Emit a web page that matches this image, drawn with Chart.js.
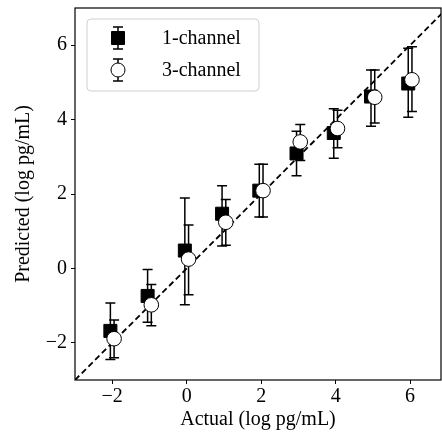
<!DOCTYPE html>
<html>
<head>
<meta charset="utf-8">
<script src="https://cdn.jsdelivr.net/npm/chart.js@4/dist/chart.umd.min.js"></script>
<style>html,body{margin:0;padding:0;background:#fff}</style>
</head>
<body>
<canvas id="myChart" width="442" height="436"></canvas>
<script>
// Daten ------------------------------------------------------------
const actual = [-2, -1, 0, 1, 2, 3, 4, 5, 6];
const pred1 = [-1.68, -0.74, 0.48, 1.47, 2.09, 3.09, 3.64, 4.62, 4.97];
const lo1   = [-2.45, -1.45, -0.98, 0.60, 1.38, 2.49, 2.96, 3.82, 4.06];
const hi1   = [-0.93, -0.03, 1.89, 2.22, 2.80, 3.69, 4.29, 5.33, 5.92];
const pred3 = [-1.89, -0.98, 0.25, 1.24, 2.09, 3.40, 3.76, 4.60, 5.07];
const lo3   = [-2.40, -1.54, -0.71, 0.62, 1.38, 2.90, 3.24, 3.91, 4.22];
const hi3   = [-1.39, -0.43, 1.17, 1.85, 2.80, 3.87, 4.25, 5.33, 5.96];
const xTicks = [-2, 0, 2, 4, 6];
const yTicks = [-2, 0, 2, 4, 6];
const identity = [-3, 7];
const shift = 0.05; // kleine Verschiebung, damit sich die Serien nicht verdecken

const FONT = 'Liberation Serif';
const fmt = v => (v < 0 ? '\u2212' + Math.abs(v) : String(v));

// Fehlerbalken, Rahmen und Legende -----------------------------------
function drawBar(ctx, px, top, bot) {
    ctx.beginPath();
    ctx.moveTo(px, top); ctx.lineTo(px, bot);
    ctx.moveTo(px - 5, top); ctx.lineTo(px + 5, top);
    ctx.moveTo(px - 5, bot); ctx.lineTo(px + 5, bot);
    ctx.stroke();
}

const errorBars = {
    id: 'errorBars',
    beforeDatasetDraw(chart, args) {
        const ds = chart.data.datasets[args.index];
        if (!ds.lo) return;
        const { ctx, scales: { x, y } } = chart;
        ctx.save();
        ctx.strokeStyle = '#000';
        ctx.lineWidth = 1.5;
        ds.data.forEach((p, i) => {
            drawBar(ctx, x.getPixelForValue(p.x), y.getPixelForValue(ds.hi[i]), y.getPixelForValue(ds.lo[i]));
        });
        ctx.restore();
    },
    afterDraw(chart) {
        const { ctx, chartArea: a } = chart;
        ctx.save();
        // Rahmen
        ctx.strokeStyle = '#000';
        ctx.lineWidth = 1.2;
        ctx.strokeRect(a.left, a.top, a.right - a.left, a.bottom - a.top);

        // Legende
        const lx = a.left + 12, ly = a.top + 11, lw = 172, lh = 72;
        ctx.fillStyle = 'rgba(255,255,255,0.8)';
        ctx.strokeStyle = '#d0d0d0';
        ctx.lineWidth = 1;
        ctx.beginPath();
        ctx.roundRect(lx, ly, lw, lh, 4);
        ctx.fill(); ctx.stroke();

        const rows = chart.data.datasets.filter(d => d.lo).sort((p, q) => p.legendIdx - q.legendIdx);
        rows.forEach((ds, i) => {
            const cx = lx + 31, cy = ly + 19 + i * 32;
            ctx.strokeStyle = '#000';
            ctx.lineWidth = 1.5;
            drawBar(ctx, cx, cy - 11, cy + 11);
            ctx.fillStyle = ds.backgroundColor;
            ctx.lineWidth = 1;
            ctx.beginPath();
            if (ds.pointStyle === 'rect') ctx.rect(cx - 6.5, cy - 6.5, 13, 13);
            else ctx.arc(cx, cy, 7, 0, Math.PI * 2);
            ctx.fill(); ctx.stroke();
            ctx.fillStyle = '#000';
            ctx.font = '20px "' + FONT + '"';
            ctx.textBaseline = 'middle';
            ctx.fillText(ds.label, lx + 75, cy + 1);
        });
        ctx.restore();
    }
};

// Chart Erstellung ---------------------------------------------------
const ctx = document.getElementById('myChart').getContext('2d');
const myChart = new Chart(ctx, {
    type: 'scatter',
    data: {
        datasets: [
            {
                label: '3-channel',
                legendIdx: 1,
                order: 0,
                data: actual.map((v, i) => ({ x: v + shift, y: pred3[i] })),
                lo: lo3, hi: hi3,
                pointStyle: 'circle',
                pointRadius: 7.3,
                pointHoverRadius: 7.3,
                backgroundColor: '#ffffff',
                borderColor: '#000000',
                borderWidth: 1
            },
            {
                label: '1-channel',
                legendIdx: 0,
                order: 1,
                data: actual.map((v, i) => ({ x: v - shift, y: pred1[i] })),
                lo: lo1, hi: hi1,
                pointStyle: 'rect',
                pointRadius: 9.2,
                pointHoverRadius: 9.2,
                backgroundColor: '#000000',
                borderColor: '#000000',
                borderWidth: 1
            },
            {
                label: 'y = x',
                order: 2,
                data: identity.map(v => ({ x: v, y: v })),
                showLine: true,
                pointRadius: 0,
                borderColor: '#000000',
                borderWidth: 1.8,
                borderDash: [6, 3.5]
            }
        ]
    },
    options: {
        responsive: false,
        animation: false,
        layout: { autoPadding: false, padding: { top: 8, right: 1, left: 0, bottom: 0 } },
        scales: {
            x: {
                min: -3, max: 6.83,
                afterFit: s => { s.height = 56; s.paddingLeft = 0; s.paddingRight = 0; },
                afterBuildTicks: s => { s.ticks = xTicks.map(v => ({ value: v })); },
                border: { display: false },
                grid: { drawOnChartArea: false, drawTicks: true, tickLength: 4, tickColor: '#000', tickWidth: 1 },
                ticks: { color: '#000', padding: 1, font: { family: FONT, size: 20 }, callback: v => fmt(v), maxRotation: 0 },
                title: { display: true, text: 'Actual (log pg/mL)', color: '#000', font: { family: FONT, size: 20 }, padding: { top: 0, bottom: 4 } }
            },
            y: {
                min: -3, max: 7,
                afterFit: s => { s.width = 75; s.paddingTop = 0; s.paddingBottom = 0; },
                afterBuildTicks: s => { s.ticks = yTicks.map(v => ({ value: v })); },
                border: { display: false },
                grid: { drawOnChartArea: false, drawTicks: true, tickLength: 4, tickColor: '#000', tickWidth: 1 },
                ticks: { color: '#000', padding: 4, font: { family: FONT, size: 20 }, callback: v => fmt(v) },
                title: { display: true, text: 'Predicted (log pg/mL)', color: '#000', font: { family: FONT, size: 20 }, padding: { top: 12, bottom: 0 } }
            }
        },
        plugins: {
            legend: { display: false },
            tooltip: { enabled: false }
        }
    },
    plugins: [errorBars]
});
</script>
</body>
</html>
